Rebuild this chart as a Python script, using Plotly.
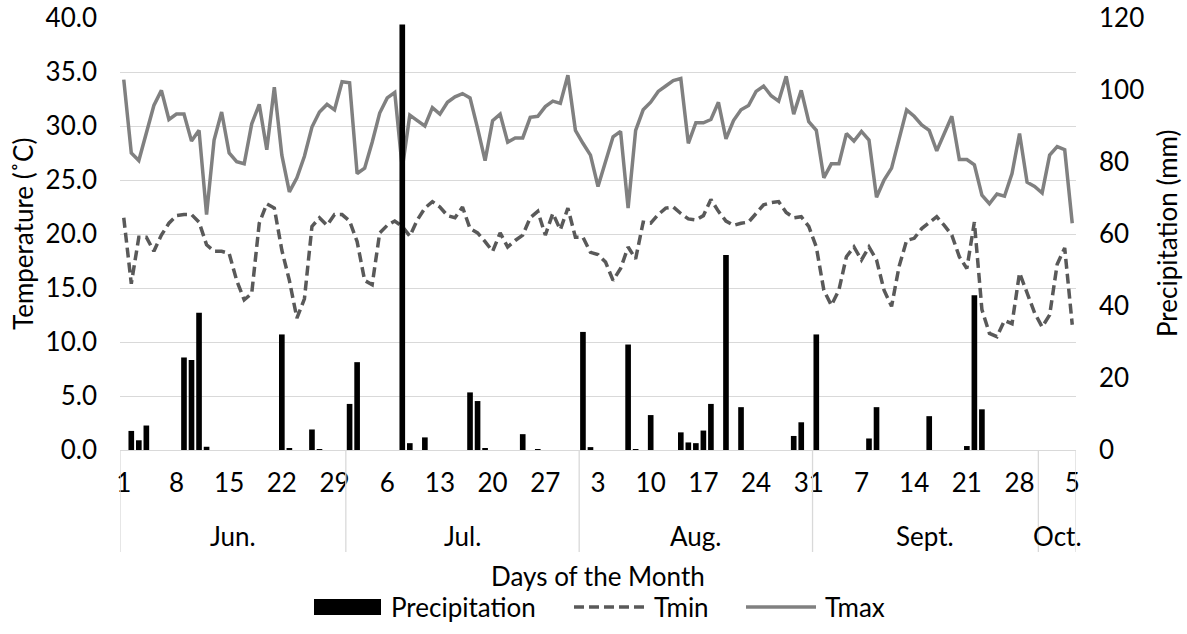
import plotly.graph_objects as go

# ---------------- data ----------------
month_names = ["Jun.", "Jul.", "Aug.", "Sept.", "Oct."]
month_lengths = [30, 31, 31, 30, 5]
day_tick_labels = ["1", "8", "15", "22", "29", "6", "13", "20", "27",
                   "3", "10", "17", "24", "31", "7", "14", "21", "28", "5"]

tmax = [34.3, 27.5, 26.8, 29.4, 31.9, 33.3, 30.6, 31.1, 31.1, 28.6,
        29.6, 21.8, 28.7, 31.3, 27.5, 26.7, 26.5, 30.2, 32.0, 27.8,
        33.6, 27.3, 23.9, 25.2, 27.2, 29.9, 31.3, 32.0, 31.5, 34.1,
        34.0, 25.6, 26.1, 28.5, 31.2, 32.6, 33.1, 26.1, 31.0, 30.5,
        30.0, 31.7, 31.1, 32.2, 32.7, 33.0, 32.6, 29.8, 26.8, 30.5,
        31.1, 28.5, 28.9, 28.9, 30.8, 30.9, 31.8, 32.3, 32.1, 34.7,
        29.6, 28.4, 27.3, 24.4, 26.7, 29.0, 29.5, 22.4, 29.6, 31.5,
        32.2, 33.2, 33.7, 34.2, 34.4, 28.4, 30.3, 30.3, 30.6, 32.2,
        28.8, 30.5, 31.5, 31.9, 33.2, 33.7, 32.8, 32.3, 34.6, 31.1,
        33.3, 30.4, 29.6, 25.2, 26.5, 26.5, 29.3, 28.6, 29.5, 28.7,
        23.4, 25.0, 26.1, 28.7, 31.5, 30.9, 30.1, 29.6, 27.7, 29.3,
        30.9, 26.9, 26.9, 26.4, 23.6, 22.8, 23.7, 23.5, 25.6, 29.3,
        24.8, 24.4, 23.8, 27.3, 28.1, 27.8, 21.0]

tmin = [21.5, 15.4, 19.7, 19.7, 18.4, 19.9, 21.0, 21.7, 21.8, 21.8,
        21.1, 19.0, 18.4, 18.4, 18.2, 15.7, 13.9, 14.5, 21.0, 22.8,
        22.4, 18.5, 15.7, 12.2, 14.0, 20.7, 21.5, 20.8, 21.8, 21.8,
        21.2, 19.3, 15.7, 15.3, 20.1, 20.8, 21.2, 20.7, 19.8, 21.3,
        22.4, 23.0, 22.5, 21.7, 21.5, 22.5, 20.5, 20.1, 19.3, 18.4,
        20.1, 18.8, 19.4, 19.9, 21.5, 22.1, 19.9, 21.9, 20.4, 22.4,
        19.7, 19.7, 18.3, 18.1, 17.4, 15.7, 16.8, 18.8, 17.7, 21.1,
        21.0, 21.8, 22.4, 22.5, 21.9, 21.4, 21.3, 21.7, 23.2, 22.1,
        21.2, 20.8, 21.0, 21.1, 21.9, 22.7, 22.9, 23.0, 22.0, 21.5,
        21.6, 20.7, 18.8, 14.8, 13.4, 14.8, 17.9, 18.8, 17.6, 18.8,
        17.6, 14.8, 13.3, 17.0, 19.4, 19.6, 20.5, 21.1, 21.6, 20.8,
        19.9, 17.9, 16.8, 21.1, 13.0, 10.8, 10.5, 12.0, 11.7, 16.4,
        14.5, 12.7, 11.4, 12.5, 17.2, 18.7, 11.6]

precip = [0, 5.3, 2.7, 6.8, 0, 0, 0, 0, 25.7, 25.0,
          38.1, 0.9, 0, 0, 0, 0, 0, 0, 0, 0,
          0, 32.1, 0.3, 0, 0, 5.7, 0.1, 0, 0, 0,
          12.8, 24.4, 0, 0, 0, 0, 0, 118.2, 1.9, 0,
          3.5, 0, 0, 0, 0, 0, 16.0, 13.6, 0.3, 0,
          0, 0, 0, 4.4, 0, 0.1, 0, 0, 0, 0,
          0, 32.8, 0.8, 0, 0, 0, 0, 29.3, 0.1, 0,
          9.7, 0, 0, 0, 4.9, 2.1, 1.9, 5.4, 12.8, 0,
          54.2, 0, 11.9, 0, 0, 0, 0, 0, 0, 3.9,
          7.7, 0, 32.1, 0, 0, 0, 0, 0, 0, 3.2,
          11.9, 0, 0, 0, 0, 0, 0, 9.4, 0, 0,
          0, 0, 1.1, 43.0, 11.3, 0, 0, 0, 0, 0,
          0, 0, 0, 0, 0, 0, 0]

days = list(range(1, len(tmax) + 1))
tick_positions = days[::7]

# ---------------- styling helpers ----------------
W, H = 1187, 634
ML, MR, MT, MB = 120, 111, 18, 184
PW, PH = W - ML - MR, H - MT - MB
FONT = "Lato, Calibri, sans-serif"
FS = 26
TXT = "#000000"
GRID = "#d9d9d9"


def fx(px):
    return (px - ML) / PW


def fy(py):
    return (H - MB - py) / PH


fig = go.Figure()

fig.add_trace(go.Scatter(
    x=days, y=tmin, name="Tmin", mode="lines", yaxis="y",
    line=dict(color="#595959", width=3.5, dash="10px,5px"),
    showlegend=False))
fig.add_trace(go.Scatter(
    x=days, y=tmax, name="Tmax", mode="lines", yaxis="y",
    line=dict(color="#808080", width=3.5),
    showlegend=False))
fig.add_trace(go.Bar(
    x=days, y=precip, name="Precipitation", yaxis="y2",
    marker=dict(color="#000000", line=dict(width=0)),
    showlegend=False))

# month group boundaries / centres
bounds = [0.5]
for n in month_lengths:
    bounds.append(bounds[-1] + n)

shapes = []
annotations = []
for b in bounds:
    shapes.append(dict(type="line", xref="x", yref="paper", x0=b, x1=b,
                       y0=0, y1=fy(552), line=dict(color=GRID, width=1.3)))
for i, name in enumerate(month_names):
    annotations.append(dict(text=name, xref="x", yref="paper",
                            x=(bounds[i] + bounds[i + 1]) / 2, y=fy(536),
                            showarrow=False, xanchor="center", yanchor="middle",
                            font=dict(family=FONT, size=FS, color=TXT)))

# axis titles
annotations.append(dict(text="Temperature (˚C)", xref="paper", yref="paper",
                        x=fx(23), y=0.5, textangle=-90, showarrow=False,
                        xanchor="center", yanchor="middle",
                        font=dict(family=FONT, size=FS, color=TXT)))
annotations.append(dict(text="Precipitation (mm)", xref="paper", yref="paper",
                        x=fx(1167), y=0.5, textangle=-90, showarrow=False,
                        xanchor="center", yanchor="middle",
                        font=dict(family=FONT, size=FS, color=TXT)))
annotations.append(dict(text="Days of the Month", xref="paper", yref="paper",
                        x=0.5, y=fy(576), showarrow=False,
                        xanchor="center", yanchor="middle",
                        font=dict(family=FONT, size=FS, color=TXT)))

# custom legend
LY = 607
shapes.append(dict(type="rect", xref="paper", yref="paper",
                   x0=fx(314), x1=fx(381), y0=fy(LY - 8), y1=fy(LY + 8),
                   fillcolor="#000000", line=dict(width=0)))
shapes.append(dict(type="line", xref="paper", yref="paper",
                   x0=fx(574), x1=fx(644), y0=fy(LY), y1=fy(LY),
                   line=dict(color="#595959", width=3.5, dash="10px,5px")))
shapes.append(dict(type="line", xref="paper", yref="paper",
                   x0=fx(746), x1=fx(816), y0=fy(LY), y1=fy(LY),
                   line=dict(color="#808080", width=3.5)))
for label, px in [("Precipitation", 389), ("Tmin", 652), ("Tmax", 823)]:
    annotations.append(dict(text=label, xref="paper", yref="paper",
                            x=fx(px), y=fy(LY), showarrow=False,
                            xanchor="left", yanchor="middle",
                            font=dict(family=FONT, size=FS, color=TXT)))

fig.update_layout(
    width=W, height=H,
    margin=dict(l=ML, r=MR, t=MT, b=MB, autoexpand=False),
    paper_bgcolor="white", plot_bgcolor="white",
    bargap=0.25,
    font=dict(family=FONT, size=FS, color=TXT),
    xaxis=dict(range=[0.5, len(days) + 0.5], tickmode="array",
               tickvals=tick_positions, ticktext=day_tick_labels,
               showgrid=False, zeroline=False, showline=True,
               linecolor=GRID, linewidth=1.3, ticks="",
               ticklabelstandoff=10, automargin=False,
               ticklabeloverflow="allow",
               tickfont=dict(family=FONT, size=FS, color=TXT)),
    yaxis=dict(range=[0, 40], dtick=5, tickformat=".1f",
               showgrid=True, gridcolor=GRID, gridwidth=1.3,
               zeroline=False, showline=False, ticks="",
               ticklabelstandoff=22, automargin=False,
               ticklabeloverflow="allow",
               tickfont=dict(family=FONT, size=FS, color=TXT)),
    yaxis2=dict(range=[0, 120], dtick=20, overlaying="y", side="right",
                showgrid=False, zeroline=False, showline=False, ticks="",
                ticklabelstandoff=22, automargin=False,
                ticklabeloverflow="allow",
                tickfont=dict(family=FONT, size=FS, color=TXT)),
    shapes=shapes,
    annotations=annotations,
)

# remove the browser's default 8px page margin so the figure fills the window
fig.write_html("out.html",
               config={"displayModeBar": False},
               post_script="document.body.style.margin='0';")
